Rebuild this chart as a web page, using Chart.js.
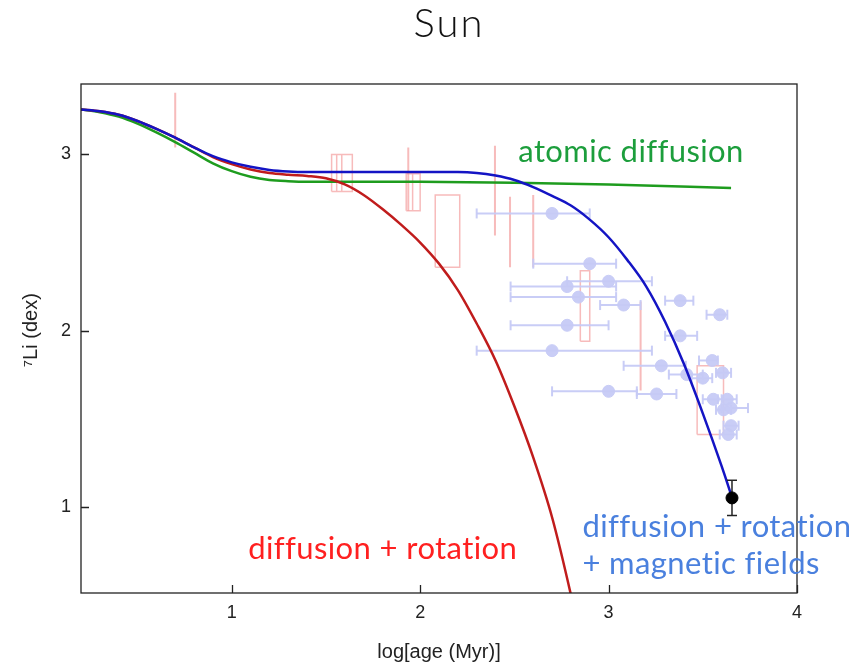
<!DOCTYPE html>
<html>
<head>
<meta charset="utf-8">
<title>Sun</title>
<script src="https://cdn.jsdelivr.net/npm/chart.js@4.4.1/dist/chart.umd.min.js"></script>
<style>
  html, body { margin: 0; padding: 0; background: #fff; }
  #wrap { width: 856px; height: 665px; }
</style>
</head>
<body>
<div id="wrap"><canvas id="liChart" width="856" height="665"></canvas></div>
<script>
// -------------------------------
// MODEL TRACKS  (log age [Myr] -> A(7Li) [dex])
// -------------------------------
const magAge = [0.2, 0.3, 0.4, 0.5, 0.6, 0.7, 0.8, 0.9, 1.0, 1.1, 1.2, 1.3, 1.4, 1.8, 2.2, 2.3, 2.4, 2.5, 2.6, 2.7, 2.8, 2.9, 3.0, 3.1, 3.2, 3.3, 3.4, 3.5, 3.6, 3.653];
const magLi  = [3.255, 3.245, 3.225, 3.19, 3.145, 3.095, 3.04, 2.99, 2.955, 2.93, 2.912, 2.903, 2.90, 2.90, 2.90, 2.895, 2.88, 2.855, 2.815, 2.765, 2.71, 2.63, 2.53, 2.40, 2.25, 2.05, 1.81, 1.53, 1.23, 1.06];

const rotAge = [0.2, 0.3, 0.4, 0.5, 0.6, 0.7, 0.8, 0.9, 1.0, 1.1, 1.2, 1.3, 1.4, 1.5, 1.6, 1.7, 1.8, 1.9, 2.0, 2.1, 2.2, 2.3, 2.4, 2.5, 2.6, 2.7, 2.8, 2.85];
const rotLi  = [3.255, 3.245, 3.225, 3.19, 3.145, 3.095, 3.04, 2.985, 2.945, 2.915, 2.895, 2.885, 2.878, 2.865, 2.83, 2.77, 2.69, 2.60, 2.50, 2.38, 2.23, 2.04, 1.83, 1.57, 1.28, 0.94, 0.50, 0.25];

const diffAge = [0.2, 0.3, 0.4, 0.5, 0.6, 0.7, 0.8, 0.9, 1.0, 1.1, 1.2, 1.3, 1.4, 2.0, 2.5, 3.0, 3.65];
const diffLi  = [3.255, 3.24, 3.215, 3.175, 3.125, 3.07, 3.01, 2.95, 2.905, 2.873, 2.855, 2.848, 2.845, 2.845, 2.84, 2.83, 2.81];

// -------------------------------
// OBSERVATIONS
// -------------------------------
// open clusters drawn as age/Li boxes
const boxAgeLo = [1.53, 1.53, 1.557, 1.926, 1.96, 2.08, 2.85, 3.47];
const boxAgeHi = [1.64, 1.557, 1.584, 2.00, 1.96, 2.21, 2.90, 3.61];
const boxLiLo  = [2.79, 2.79, 2.79, 2.68, 2.68, 2.36, 1.94, 1.41];
const boxLiHi  = [3.00, 3.00, 3.00, 2.89, 2.89, 2.77, 2.34, 1.80];

// clusters with a single age and a Li spread
const barAge  = [0.70, 1.937, 2.397, 2.477, 2.60, 3.17];
const barLiLo = [3.04, 2.68, 2.54, 2.36, 2.36, 1.66];
const barLiHi = [3.35, 3.04, 3.05, 2.76, 2.77, 2.165];

// solar twins with age uncertainties
const starAge   = [2.70, 2.90, 3.00, 2.78, 2.84, 3.08, 2.78, 2.70, 3.00, 3.255, 3.28, 3.38, 3.38, 3.59, 3.55, 3.415, 3.50, 3.605, 3.556, 3.63, 3.61, 3.65, 3.65, 3.635];
const starLi    = [2.665, 2.38, 2.28, 2.25, 2.19, 2.145, 2.03, 1.886, 1.655, 1.64, 1.80, 2.17, 1.97, 2.09, 1.83, 1.75, 1.73, 1.76, 1.61, 1.61, 1.55, 1.56, 1.46, 1.41];
const starAgeLo = [2.30, 2.60, 2.78, 2.48, 2.48, 2.955, 2.48, 2.30, 2.70, 3.15, 3.08, 3.30, 3.30, 3.52, 3.48, 3.32, 3.44, 3.57, 3.50, 3.58, 3.57, 3.60, 3.61, 3.59];
const starAgeHi = [2.90, 3.04, 3.23, 3.04, 3.04, 3.17, 3.00, 3.23, 3.15, 3.36, 3.41, 3.45, 3.47, 3.63, 3.58, 3.50, 3.55, 3.65, 3.60, 3.68, 3.65, 3.74, 3.69, 3.68];

// the Sun today
const sunAge = [3.655];
const sunLi = [1.05];
const sunLiLo = [0.95];
const sunLiHi = [1.15];

const xTicks = [1, 2, 3, 4];
const yTicks = [1, 2, 3];

const notes = [
    { text: "atomic diffusion", x: 2.521, y: 2.956, color: "#1c9e3c" },
    { text: "diffusion + rotation", x: 1.087, y: 0.703, color: "#ff2020" },
    { text: "diffusion + rotation", x: 2.861, y: 0.828, color: "#4a80de" },
    { text: "+ magnetic fields", x: 2.861, y: 0.618, color: "#4a80de" }
];

// -------------------------------
// HELPERS
// -------------------------------
const GAP = { x: null, y: null };
const track = (xs, ys) => xs.map((x, i) => ({ x, y: ys[i] }));

function boxOutlines() {
    const pts = [];
    boxAgeLo.forEach((lo, i) => {
        const hi = boxAgeHi[i], a = boxLiLo[i], b = boxLiHi[i];
        pts.push({ x: lo, y: a }, { x: hi, y: a }, { x: hi, y: b }, { x: lo, y: b }, { x: lo, y: a }, GAP);
    });
    return pts;
}

function vSegments(xs, los, his) {
    const pts = [];
    xs.forEach((x, i) => pts.push({ x, y: los[i] }, { x, y: his[i] }, GAP));
    return pts;
}

function hSegments(ys, los, his) {
    const pts = [];
    ys.forEach((y, i) => pts.push({ x: los[i], y }, { x: his[i], y }, GAP));
    return pts;
}

// -------------------------------
// PLUGINS: title, frame, inward ticks, curve labels
// -------------------------------
const frameTicks = {
    id: "frameTicks",
    afterDraw(chart) {
        const { ctx, chartArea: a, scales: { x, y } } = chart;
        ctx.save();
        ctx.strokeStyle = "#222";
        ctx.lineWidth = 1.3;
        ctx.strokeRect(a.left, a.top, a.right - a.left, a.bottom - a.top);
        ctx.beginPath();
        xTicks.forEach(v => {
            const px = Math.round(x.getPixelForValue(v)) + 0.5;
            ctx.moveTo(px, a.bottom);
            ctx.lineTo(px, a.bottom - 8);
        });
        yTicks.forEach(v => {
            const py = Math.round(y.getPixelForValue(v)) + 0.5;
            ctx.moveTo(a.left, py);
            ctx.lineTo(a.left + 8, py);
        });
        ctx.stroke();

        // heading over the whole figure
        ctx.fillStyle = "#111";
        ctx.font = "300 40px Lato, 'Open Sans', sans-serif";
        ctx.letterSpacing = "2px";
        ctx.textAlign = "center";
        ctx.textBaseline = "middle";
        ctx.fillText("Sun", 449, 24);
        ctx.restore();
    }
};

const curveNotes = {
    id: "curveNotes",
    afterDraw(chart) {
        const { ctx, scales: { x, y } } = chart;
        ctx.save();
        ctx.font = "400 31px Lato, 'Open Sans', sans-serif";
        ctx.letterSpacing = "0.4px";
        ctx.textAlign = "left";
        ctx.textBaseline = "alphabetic";
        notes.forEach(n => {
            ctx.fillStyle = n.color;
            ctx.fillText(n.text, x.getPixelForValue(n.x), y.getPixelForValue(n.y));
        });
        ctx.restore();
    }
};

// -------------------------------
// CHART
// -------------------------------
const pink = "rgba(242, 150, 150, 0.65)";
const lavender = "rgba(198, 202, 245, 0.95)";
const tickFont = { family: "'Liberation Sans', Arial, sans-serif", size: 18 };
const titleFont = { family: "'Liberation Sans', Arial, sans-serif", size: 20 };

new Chart(document.getElementById("liChart"), {
    type: "scatter",
    data: {
        datasets: [
            {
                label: "Sun",
                data: track(sunAge, sunLi),
                pointRadius: 6,
                backgroundColor: "#000",
                borderColor: "#000",
                order: 0
            },
            {
                label: "Sun error",
                data: vSegments(sunAge, sunLiLo, sunLiHi),
                showLine: true,
                borderColor: "#222",
                borderWidth: 1.5,
                pointStyle: "line",
                pointRadius: 5,
                pointBorderColor: "#222",
                pointBorderWidth: 1.5,
                order: 0
            },
            {
                label: "diffusion + rotation + magnetic fields",
                data: track(magAge, magLi),
                showLine: true,
                borderColor: "#1414c4",
                borderWidth: 2.5,
                pointRadius: 0,
                cubicInterpolationMode: "monotone",
                order: 1
            },
            {
                label: "diffusion + rotation",
                data: track(rotAge, rotLi),
                showLine: true,
                borderColor: "#c01c1c",
                borderWidth: 2.5,
                pointRadius: 0,
                cubicInterpolationMode: "monotone",
                order: 2
            },
            {
                label: "atomic diffusion",
                data: track(diffAge, diffLi),
                showLine: true,
                borderColor: "#1e9c1e",
                borderWidth: 2.5,
                pointRadius: 0,
                cubicInterpolationMode: "monotone",
                order: 3
            },
            {
                label: "solar twins",
                data: track(starAge, starLi),
                pointRadius: 6,
                backgroundColor: lavender,
                borderColor: lavender,
                order: 4
            },
            {
                label: "age errors",
                data: hSegments(starLi, starAgeLo, starAgeHi),
                showLine: true,
                borderColor: lavender,
                borderWidth: 2,
                pointStyle: "line",
                rotation: 90,
                pointRadius: 5,
                pointBorderColor: lavender,
                pointBorderWidth: 2,
                order: 5
            },
            {
                label: "cluster spreads",
                data: vSegments(barAge, barLiLo, barLiHi),
                showLine: true,
                borderColor: pink,
                borderWidth: 2,
                pointRadius: 0,
                order: 6
            },
            {
                label: "cluster boxes",
                data: boxOutlines(),
                showLine: true,
                borderColor: pink,
                borderWidth: 1.5,
                pointRadius: 0,
                order: 6
            }
        ]
    },
    options: {
        responsive: false,
        animation: false,
        devicePixelRatio: 1,
        layout: { padding: { left: 0, top: 84, right: 59, bottom: 0 } },
        plugins: {
            legend: { display: false },
            tooltip: { enabled: false },
            title: { display: false }
        },
        scales: {
            x: {
                type: "linear",
                min: 0.2,
                max: 4,
                afterFit: s => { s.height = 72; },
                afterBuildTicks: s => { s.ticks = xTicks.map(v => ({ value: v })); },
                grid: { display: false, drawTicks: false },
                border: { display: false },
                ticks: { color: "#222", font: tickFont, padding: 9 },
                title: {
                    display: true,
                    text: "log[age (Myr)]",
                    color: "#222",
                    font: titleFont,
                    padding: { top: 0, bottom: 1 }
                }
            },
            y: {
                type: "linear",
                min: 0.51,
                max: 3.40,
                afterFit: s => { s.width = 81; },
                afterBuildTicks: s => { s.ticks = yTicks.map(v => ({ value: v })); },
                grid: { display: false, drawTicks: false },
                border: { display: false },
                ticks: { color: "#222", font: tickFont, padding: 10 },
                title: {
                    display: true,
                    text: "   \u2077Li (dex)",
                    color: "#222",
                    font: titleFont,
                    padding: { top: 19, bottom: 0 }
                }
            }
        }
    },
    plugins: [frameTicks, curveNotes]
});
</script>
</body>
</html>
